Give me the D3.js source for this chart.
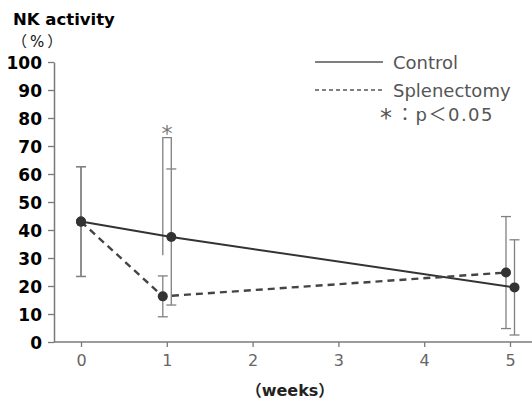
<!DOCTYPE html>
<html>
<head>
<meta charset="utf-8">
<script type="text/javascript" src="https://cdn.jsdelivr.net/npm/d3@7"></script>
<style>
  body { margin: 0; background: #fff; }
  text { font-family: "DejaVu Sans", "Noto Sans CJK JP", sans-serif; }
</style>
</head>
<body>
<svg id="chart" width="532" height="403"></svg>
<script type="text/javascript">
// values
var weeks = [0, 1, 5]
var xTicks = [0, 1, 2, 3, 4, 5]
var yTicks = [0, 10, 20, 30, 40, 50, 60, 70, 80, 90, 100]
var controlMean = [43, 37.5, 19.5]
var controlSD = [19.6, 24.3, 17]
var splenMean = [43, 16.3, 24.8]
var splenSD = [19.6, 7.3, 20]
var seriesNames = ["Control", "Splenectomy"]
// significance bracket at week 1 (top and left leg bottom in %)
var sigWeek = 1
var sigTop = 73
var sigLegBottom = 31

var svg = d3.select("#chart")
var x = d3.scaleLinear().domain([0, 5]).range([81, 510])
var y = d3.scaleLinear().domain([0, 100]).range([342, 62])
var axisColor = "#7a7a7a"

// dodge series a bit sideways after week 0, like the print
function dodge(i, w) { return w === 0 ? 0 : (i === 0 ? 4.5 : -4) }

// axes
var yAxis = svg.append("g").attr("transform", "translate(54,0)")
  .call(d3.axisLeft(y).tickValues(yTicks).tickSize(6).tickSizeOuter(0).tickPadding(6))
yAxis.select(".domain").attr("stroke", axisColor).attr("stroke-width", 1.5)
yAxis.selectAll(".tick line").attr("stroke", axisColor).attr("stroke-width", 1.3)
yAxis.selectAll(".tick text").attr("fill", "#000").attr("font-size", 17)
  .attr("font-weight", "bold").attr("font-family", "DejaVu Sans").attr("dy", "0.36em")

var xAxis = svg.append("g").attr("transform", "translate(0,342)")
  .call(d3.axisBottom(x).tickValues(xTicks).tickFormat(d3.format("d")).tickSize(5).tickSizeOuter(0).tickPadding(8))
xAxis.select(".domain").remove()
xAxis.append("line").attr("x1", 54).attr("x2", 532).attr("y1", 0).attr("y2", 0)
  .attr("stroke", axisColor).attr("stroke-width", 1.5)
xAxis.selectAll(".tick line").attr("stroke", axisColor).attr("stroke-width", 1.3)
xAxis.selectAll(".tick text").attr("fill", "#666").attr("font-size", 16).attr("font-family", "DejaVu Sans")

// titles
svg.append("text").attr("x", 13).attr("y", 25).attr("font-size", 16.5).attr("font-weight", "bold")
  .attr("fill", "#000").text("NK activity")
svg.append("text").attr("x", 12).attr("y", 47).attr("font-size", 15).attr("fill", "#111")
  .attr("letter-spacing", 3).text("（%）")
svg.append("text").attr("x", 290).attr("y", 396).attr("text-anchor", "middle").attr("font-size", 16)
  .attr("font-weight", "bold").attr("fill", "#222").text("（weeks）")

var series = [
  {name: seriesNames[0], mean: controlMean, sd: controlSD, dash: null, color: "#333"},
  {name: seriesNames[1], mean: splenMean, sd: splenSD, dash: "7,5", color: "#444"}
]

// error bars
series.forEach(function (s, i) {
  weeks.forEach(function (w, k) {
    var cx = x(w) + dodge(i, w)
    var g = svg.append("g").attr("stroke", "#808080").attr("stroke-width", 1.3)
    g.append("line").attr("x1", cx).attr("x2", cx).attr("y1", y(s.mean[k] + s.sd[k])).attr("y2", y(s.mean[k] - s.sd[k]))
    ;[s.mean[k] + s.sd[k], s.mean[k] - s.sd[k]].forEach(function (v) {
      g.append("line").attr("x1", cx - 5).attr("x2", cx + 5).attr("y1", y(v)).attr("y2", y(v))
    })
  })
})

// significance bracket
var k1 = weeks.indexOf(sigWeek)
var bx0 = x(sigWeek) + dodge(1, sigWeek)
var bx1 = x(sigWeek) + dodge(0, sigWeek)
svg.append("path").attr("fill", "none").attr("stroke", "#808080").attr("stroke-width", 1.3)
  .attr("d", "M" + bx0 + "," + y(sigLegBottom) + "V" + y(sigTop) + "H" + bx1 + "V" + y(controlMean[k1] + controlSD[k1]))
svg.append("text").attr("x", (bx0 + bx1) / 2).attr("y", y(sigTop) + 3).attr("text-anchor", "middle")
  .attr("font-size", 22).attr("fill", "#777").text("*")

// lines and points
series.forEach(function (s, i) {
  var line = d3.line().x(function (d, k) { return x(weeks[k]) + dodge(i, weeks[k]) }).y(function (d) { return y(d) })
  svg.append("path").datum(s.mean).attr("d", line).attr("fill", "none")
    .attr("stroke", s.color).attr("stroke-width", i === 0 ? 2 : 2.4).attr("stroke-dasharray", s.dash)
})
series.forEach(function (s, i) {
  svg.selectAll(null).data(s.mean).enter().append("circle")
    .attr("cx", function (d, k) { return x(weeks[k]) + dodge(i, weeks[k]) })
    .attr("cy", function (d) { return y(d) })
    .attr("r", 5).attr("fill", "#333")
})

// legend
var legend = svg.append("g")
series.forEach(function (s, i) {
  var ly = 62 + i * 28
  legend.append("line").attr("x1", 315).attr("x2", 383).attr("y1", ly).attr("y2", ly)
    .attr("stroke", "#555").attr("stroke-width", 1.5).attr("stroke-dasharray", s.dash ? "4,3" : null)
  legend.append("text").attr("x", 393).attr("y", ly + 6.5).attr("font-size", 18).attr("fill", "#555").text(s.name)
})
legend.append("text").attr("x", 380).attr("y", 126).attr("font-size", 24).attr("fill", "#555").text("*")
legend.append("text").attr("x", 396).attr("y", 121).attr("font-size", 18).attr("fill", "#555")
  .attr("letter-spacing", 1.5).text("：p＜0.05")
</script>
</body>
</html>
